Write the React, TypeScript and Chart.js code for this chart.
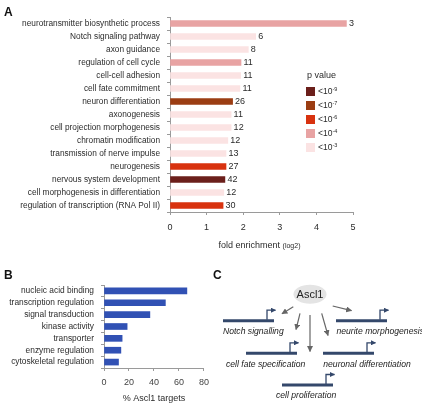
import React, { useEffect, useRef } from "react";
import { Chart, registerables } from "chart.js";

Chart.register(...registerables);

// ---------- Panel A data ----------
const categoriesA = [
  "neurotransmitter biosynthetic process",
  "Notch signaling pathway",
  "axon guidance",
  "regulation of cell cycle",
  "cell-cell adhesion",
  "cell fate commitment",
  "neuron differentiation",
  "axonogenesis",
  "cell projection morphogenesis",
  "chromatin modification",
  "transmission of nerve impulse",
  "neurogenesis",
  "nervous system development",
  "cell morphogenesis in differentiation",
  "regulation of transcription (RNA Pol II)",
];
const foldEnrichment = [4.82, 2.34, 2.14, 1.94, 1.93, 1.91, 1.71, 1.67, 1.67, 1.58, 1.53, 1.53, 1.5, 1.47, 1.45];
const geneCounts = [3, 6, 8, 11, 11, 11, 26, 11, 12, 12, 13, 27, 42, 12, 30];
const pValueClass = [3, 4, 4, 3, 4, 4, 1, 4, 4, 4, 4, 2, 0, 4, 2];
const pValueExponents = ["-9", "-7", "-6", "-4", "-3"];
const pValueColors = ["#6b1f1b", "#9b3d13", "#d8320f", "#e8a3a3", "#fbe3e3"];
const xTicksA = [0, 1, 2, 3, 4, 5];

// ---------- Panel B data ----------
const categoriesB = [
  "nucleic acid binding",
  "transcription regulation",
  "signal transduction",
  "kinase activity",
  "transporter",
  "enzyme regulation",
  "cytoskeletal regulation",
];
const percentTargets = [66.3, 49.1, 36.7, 18.5, 14.5, 13.5, 11.6];
const xTicksB = [0, 20, 40, 60, 80];

// ---------- Panel C content ----------
const regulatorName = "Ascl1";
const targetProcesses = [
  "Notch signalling",
  "neurite morphogenesis",
  "cell fate specification",
  "neuronal differentiation",
  "cell proliferation",
];

const FONT = '"Liberation Sans", Arial, sans-serif';
const AXIS_GRAY = "#9a9a9a";
const TEXT = "#2b2b2b";

const countLabelsPlugin = {
  id: "countLabels",
  afterDatasetsDraw(chart: any) {
    const meta = chart.getDatasetMeta(0);
    const ctx = chart.ctx;
    ctx.save();
    ctx.font = `9px ${FONT}`;
    ctx.fillStyle = TEXT;
    ctx.textBaseline = "middle";
    ctx.textAlign = "left";
    meta.data.forEach((bar: any, i: number) => {
      ctx.fillText(String(geneCounts[i]), bar.x + 2.5, bar.y + 0.5);
    });
    ctx.restore();
  },
};

const titleAPlugin = {
  id: "titleA",
  afterDraw(chart: any) {
    const ctx = chart.ctx;
    const { left, right } = chart.chartArea;
    const main = "fold enrichment ";
    const small = "(log2)";
    ctx.save();
    ctx.fillStyle = TEXT;
    ctx.textBaseline = "alphabetic";
    ctx.font = `9px ${FONT}`;
    const w1 = ctx.measureText(main).width;
    ctx.font = `7px ${FONT}`;
    const w2 = ctx.measureText(small).width;
    const cx = (left + right) / 2 - 2;
    const x0 = cx - (w1 + w2) / 2;
    const y = 248;
    ctx.font = `9px ${FONT}`;
    ctx.fillText(main, x0, y);
    ctx.font = `7px ${FONT}`;
    ctx.fillText(small, x0 + w1, y);
    ctx.restore();
  },
};

function PanelA() {
  const ref = useRef<HTMLCanvasElement>(null);
  useEffect(() => {
    if (!ref.current) return;
    const chart = new Chart(ref.current, {
      type: "bar",
      data: {
        labels: categoriesA,
        datasets: [
          {
            data: foldEnrichment,
            backgroundColor: pValueClass.map((k) => pValueColors[k]),
            borderWidth: 0,
            barThickness: 6,
          },
        ],
      },
      options: {
        indexAxis: "y",
        responsive: false,
        maintainAspectRatio: false,
        animation: false,
        layout: { padding: { top: 17, right: 69, left: 0, bottom: 0 } },
        plugins: { legend: { display: false }, tooltip: { enabled: false }, title: { display: false } },
        scales: {
          x: {
            min: xTicksA[0],
            max: xTicksA[xTicksA.length - 1],
            afterBuildTicks: (s: any) => {
              s.ticks = xTicksA.map((v) => ({ value: v }));
            },
            ticks: { font: { family: FONT, size: 9 }, color: TEXT, padding: 7 },
            grid: { drawOnChartArea: false, tickLength: 3, color: AXIS_GRAY },
            border: { color: AXIS_GRAY, width: 1 },
            afterFit: (s: any) => {
              s.height = 38;
            },
          },
          y: {
            ticks: { font: { family: FONT, size: 8.3 }, color: TEXT, padding: 7, autoSkip: false },
            grid: { drawOnChartArea: false, tickLength: 3, color: AXIS_GRAY },
            border: { color: AXIS_GRAY, width: 1 },
            afterFit: (s: any) => {
              s.width = 170;
            },
          },
        },
      } as any,
      plugins: [countLabelsPlugin, titleAPlugin],
    });
    return () => chart.destroy();
  }, []);
  return (
    <canvas
      ref={ref}
      width={422}
      height={250}
      style={{ position: "absolute", left: 0, top: 0, width: 422, height: 250 }}
    />
  );
}

function PanelB() {
  const ref = useRef<HTMLCanvasElement>(null);
  useEffect(() => {
    if (!ref.current) return;
    const chart = new Chart(ref.current, {
      type: "bar",
      data: {
        labels: categoriesB,
        datasets: [{ data: percentTargets, backgroundColor: "#3151b4", borderWidth: 0, barThickness: 6 }],
      },
      options: {
        indexAxis: "y",
        responsive: false,
        maintainAspectRatio: false,
        animation: false,
        layout: { padding: { top: 35, right: 10, left: 0, bottom: 0 } },
        plugins: { legend: { display: false }, tooltip: { enabled: false } },
        scales: {
          x: {
            min: xTicksB[0],
            max: xTicksB[xTicksB.length - 1],
            afterBuildTicks: (s: any) => {
              s.ticks = xTicksB.map((v) => ({ value: v }));
            },
            ticks: { font: { family: FONT, size: 9 }, color: "#444", padding: 6 },
            grid: { drawOnChartArea: false, tickLength: 3, color: AXIS_GRAY },
            border: { color: AXIS_GRAY, width: 1 },
            title: {
              display: true,
              text: "% Ascl1 targets",
              font: { family: FONT, size: 9 },
              color: TEXT,
              padding: { top: 0, bottom: 0 },
            },
            afterFit: (s: any) => {
              s.height = 36;
            },
          },
          y: {
            ticks: { font: { family: FONT, size: 8.4 }, color: TEXT, padding: 7, autoSkip: false },
            grid: { drawOnChartArea: false, tickLength: 3, color: AXIS_GRAY },
            border: { color: AXIS_GRAY, width: 1 },
            afterFit: (s: any) => {
              s.width = 104;
            },
          },
        },
      } as any,
    });
    return () => chart.destroy();
  }, []);
  return (
    <canvas
      ref={ref}
      width={215}
      height={154}
      style={{ position: "absolute", left: 0, top: 250, width: 215, height: 154 }}
    />
  );
}

function Legend() {
  const rowY = [91.5, 105.5, 119.5, 133.5, 147.5];
  return (
    <div style={{ position: "absolute", left: 0, top: 0, fontFamily: FONT, color: TEXT }}>
      <div style={{ position: "absolute", left: 307, top: 69, fontSize: 9, lineHeight: "12px", whiteSpace: "nowrap" }}>
        p value
      </div>
      {pValueExponents.map((e, i) => (
        <div key={e} style={{ position: "absolute", left: 306, top: rowY[i] - 4.5, height: 9, whiteSpace: "nowrap" }}>
          <div style={{ position: "absolute", left: 0, top: 0, width: 9, height: 9, background: pValueColors[i] }} />
          <div style={{ position: "absolute", left: 12, top: -1, fontSize: 8.5, lineHeight: "11px" }}>
            {"<10"}
            <sup style={{ fontSize: 5.5, verticalAlign: "top", lineHeight: "6px" }}>{e}</sup>
          </div>
        </div>
      ))}
    </div>
  );
}

function PanelC() {
  const gene = "#34486b";
  const arrow = "#666";
  const genes = [
    { x1: 223, x2: 274, y: 320.7, lx: 223, ly: 334 },
    { x1: 336, x2: 387, y: 320.7, lx: 336.5, ly: 334 },
    { x1: 246, x2: 297, y: 353.3, lx: 226, ly: 366.5 },
    { x1: 323, x2: 374, y: 353.3, lx: 323.3, ly: 366.5 },
    { x1: 282, x2: 333, y: 385, lx: 276, ly: 398 },
  ];
  const arrows = [
    [293.3, 306.7, 282, 313.8],
    [300, 313.3, 296, 329.5],
    [310, 315, 310, 351.5],
    [321.7, 313.3, 328, 335.5],
    [332.7, 306, 351.5, 310.7],
  ];
  return (
    <svg width={422} height={404} style={{ position: "absolute", left: 0, top: 0 }}>
      <defs>
        <marker id="grayHead" viewBox="0 0 10 10" refX="9" refY="5" markerWidth="5" markerHeight="5" orient="auto">
          <path d="M0,0 L10,5 L0,10 z" fill={arrow} />
        </marker>
        <marker id="geneHead" viewBox="0 0 10 10" refX="9" refY="5" markerWidth="4" markerHeight="4" orient="auto">
          <path d="M0,0 L10,5 L0,10 z" fill={gene} />
        </marker>
      </defs>
      <ellipse cx={310} cy={294.3} rx={16.5} ry={9.5} fill="#e4e4e4" />
      <text x={310} y={298.3} textAnchor="middle" fontFamily={FONT} fontSize={11} fill="#222">
        {regulatorName}
      </text>
      {arrows.map((a, i) => (
        <line key={i} x1={a[0]} y1={a[1]} x2={a[2]} y2={a[3]} stroke={arrow} strokeWidth={1.2} markerEnd="url(#grayHead)" />
      ))}
      {genes.map((g, i) => (
        <g key={i}>
          <line x1={g.x1} y1={g.y} x2={g.x2} y2={g.y} stroke={gene} strokeWidth={3} />
          <polyline
            points={`${g.x2 - 7},${g.y - 1} ${g.x2 - 7},${g.y - 10.5} ${g.x2 + 1.5},${g.y - 10.5}`}
            fill="none"
            stroke={gene}
            strokeWidth={1.3}
            markerEnd="url(#geneHead)"
          />
          <text x={g.lx} y={g.ly} fontFamily={FONT} fontStyle="italic" fontSize={8.6} fill="#222">
            {targetProcesses[i]}
          </text>
        </g>
      ))}
    </svg>
  );
}

const letterStyle: React.CSSProperties = {
  position: "absolute",
  fontFamily: FONT,
  fontWeight: "bold",
  fontSize: 12,
  lineHeight: "14px",
  color: "#111",
};

export default function App() {
  return (
    <div style={{ position: "absolute", left: 0, top: 0, width: 422, height: 404, background: "#fff", overflow: "hidden" }}>
      <PanelA />
      <PanelB />
      <PanelC />
      <Legend />
      <div style={{ ...letterStyle, left: 4, top: 5 }}>A</div>
      <div style={{ ...letterStyle, left: 4, top: 268 }}>B</div>
      <div style={{ ...letterStyle, left: 213, top: 268 }}>C</div>
    </div>
  );
}
